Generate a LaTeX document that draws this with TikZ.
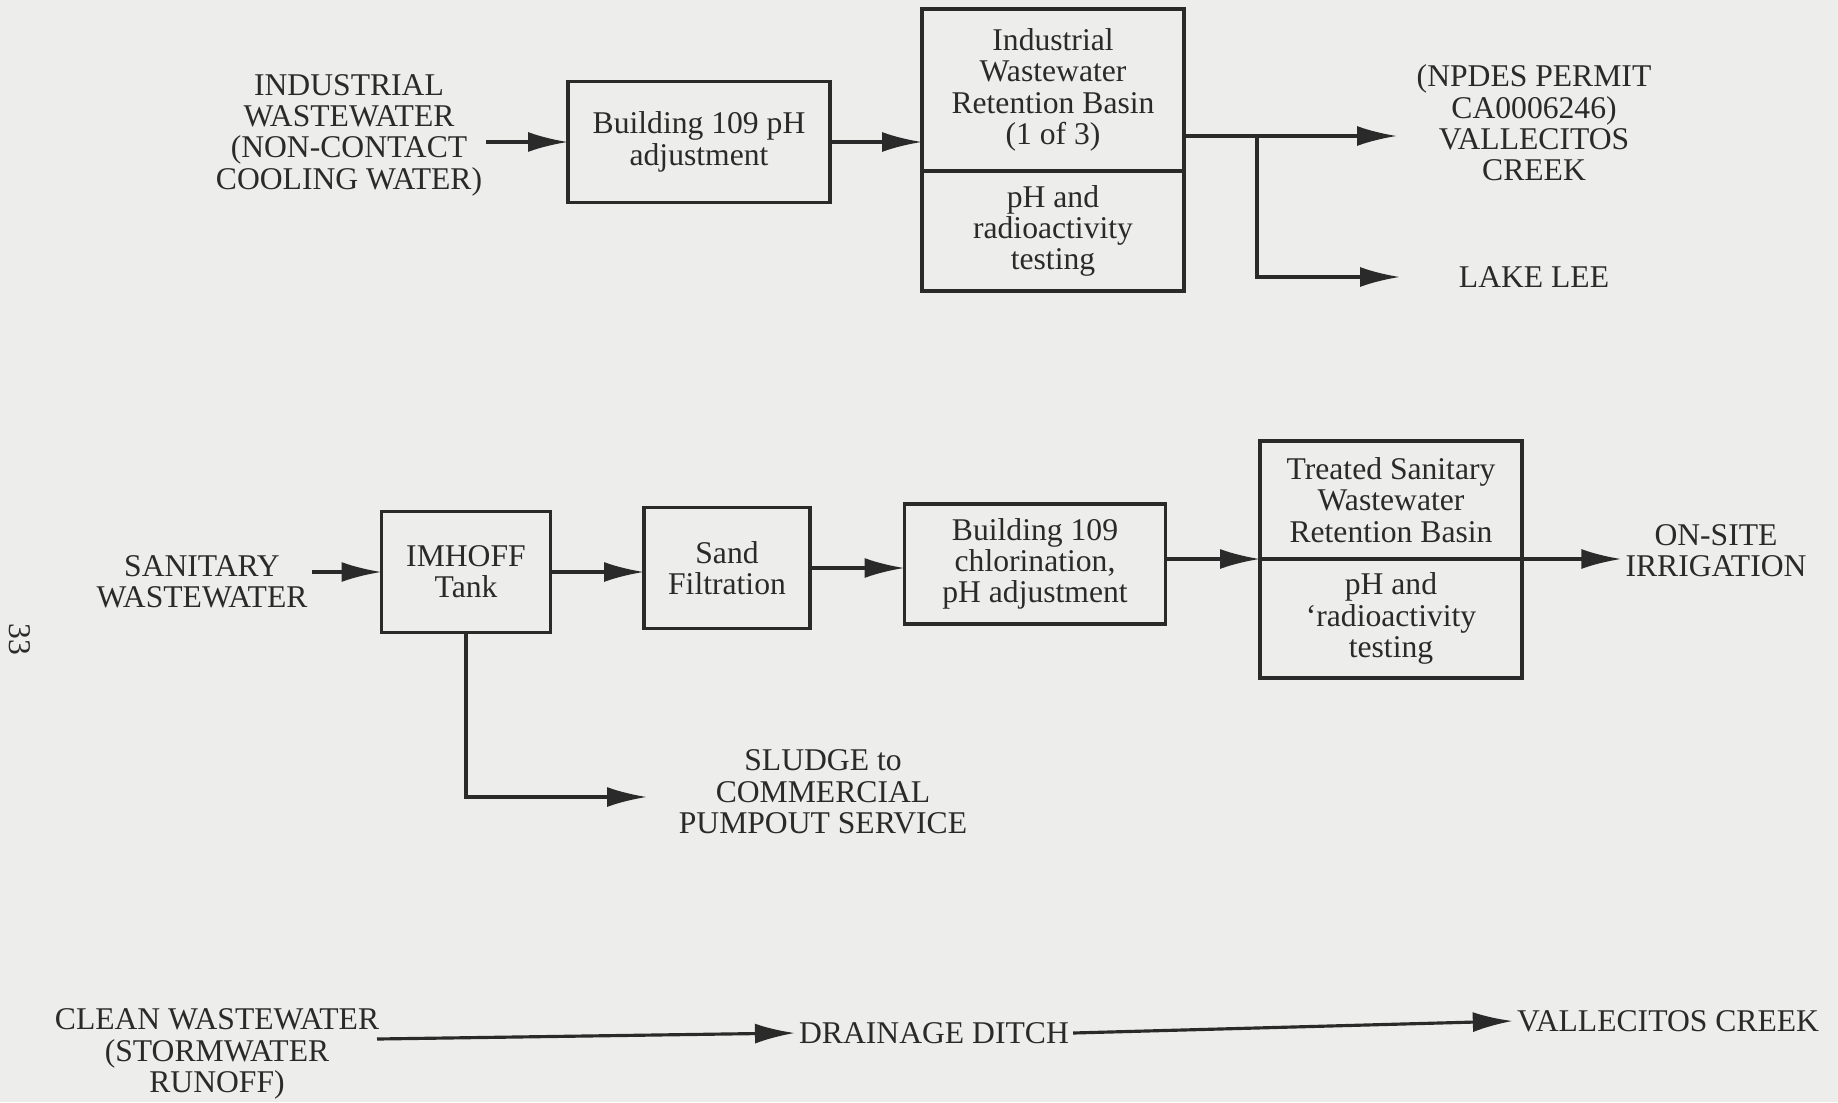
\documentclass[tikz,border=0pt]{standalone}
\usepackage{fontspec}
\setmainfont{Liberation Serif}
\usetikzlibrary{arrows.meta,positioning}
\definecolor{scanbg}{RGB}{237,237,235}
\definecolor{ink}{RGB}{42,42,42}

\begin{document}
\begin{tikzpicture}[x=0.1mm, y=-0.1mm,
    box/.style={draw=ink, line width=0.9pt, outer sep=0pt, inner sep=0pt, align=center, text=ink, font=\fontsize{9}{8.9}\selectfont},
    lbl/.style={inner sep=1pt, align=center, text=ink, font=\fontsize{9}{8.9}\selectfont},
    arr/.style={-{Latex[length=4mm, width=2mm]}, line width=0.9pt, ink}]

    % Page
    \useasboundingbox (0,0) rectangle (1838,1102);
    \fill[scanbg] (0,0) rectangle (1838,1102);
    \node[lbl, rotate=-90] (pgnum) at (20,639) {33};

    % Industrial wastewater
    \node[lbl] (ind) at (349,135) {INDUSTRIAL\\WASTEWATER\\(NON-CONTACT\\COOLING WATER)};
    \node[box, minimum width=26.2mm, minimum height=12.1mm] (ph) at (699,142) {Building 109 pH\\adjustment};
    \node[box, minimum width=26.2mm, minimum height=16.2mm] (rettop) at (1053,90) {Industrial\\Wastewater\\Retention Basin\\(1 of 3)};
    \node[box, minimum width=26.2mm, minimum height=12mm, below=0pt of rettop] (retbot) {pH and\\radioactivity\\testing};
    \node[lbl] (npdes) at (1534,123) {(NPDES PERMIT\\CA0006246)\\VALLECITOS\\CREEK};
    \node[lbl] (lake) at (1534,277) {LAKE LEE};
    \coordinate (split) at (1257,136);
    \coordinate (vcin) at (1397,136);
    \coordinate (llin) at (1400,277);

    \draw[arr] (ind.east |- ph.west) -- (ph.west);
    \draw[arr] (ph.east) -- (ph.east -| rettop.west);
    \draw[arr] (rettop.east |- split) -- (vcin);
    \draw[arr] (split) |- (llin);

    % Sanitary wastewater
    \node[lbl] (san) at (202,582) {SANITARY\\WASTEWATER};
    \node[box, minimum width=16.9mm, minimum height=12.1mm] (imh) at (466,572) {IMHOFF\\Tank};
    \node[box, minimum width=16.6mm, minimum height=12.1mm] (sand) at (727,568) {Sand\\Filtration};
    \node[box, minimum width=26.1mm, minimum height=12mm] (chl) at (1035,564) {Building 109\\chlorination,\\pH adjustment};
    \node[box, minimum width=26.2mm, minimum height=11.8mm] (tsbtop) at (1391,500) {Treated Sanitary\\Wastewater\\Retention Basin};
    \node[box, minimum width=26.2mm, minimum height=11.9mm, below=0pt of tsbtop] (tsbbot) {pH and\\{`}radioactivity\\testing};
    \node[lbl] (irr) at (1716,551) {ON-SITE\\IRRIGATION};
    \node[lbl] (sludge) at (823,792) {SLUDGE to\\COMMERCIAL\\PUMPOUT SERVICE};
    \coordinate (sludgein) at (647,797);

    \draw[arr] (san.east |- imh.west) -- (imh.west);
    \draw[arr] (imh.east) -- (imh.east -| sand.west);
    \draw[arr] (sand.east) -- (sand.east -| chl.west);
    \draw[arr] (chl.east |- tsbtop.south west) -- (tsbtop.south west);
    \draw[arr] (tsbtop.south east) -- (irr.west |- tsbtop.south east);
    \draw[arr] (imh.south) |- (sludgein);

    % Clean wastewater
    \node[lbl] (clean) at (217,1054) {CLEAN WASTEWATER\\(STORMWATER\\RUNOFF)};
    \node[lbl] (ditch) at (934,1033) {DRAINAGE DITCH};
    \node[lbl] (vc) at (1668,1021) {VALLECITOS CREEK};
    \coordinate (cleanout) at (377,1039);

    \draw[arr] (cleanout) -- (ditch.west);
    \draw[arr] (ditch.east) -- (vc.west);
\end{tikzpicture}
\end{document}
